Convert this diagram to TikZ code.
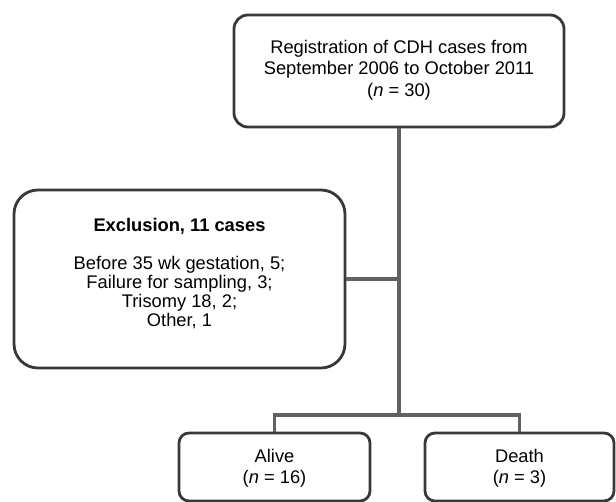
\documentclass[tikz,border=0pt]{standalone}
\usepackage{fontspec}
\setmainfont{Liberation Sans}
\usetikzlibrary{positioning}

\begin{document}
\begin{tikzpicture}[x=1pt,y=1pt,
    box/.style={draw=black!78,line width=2.8pt,rounded corners=#1,inner sep=0pt},
    box/.default=14pt,
    link/.style={draw=black!62,line width=3.2pt},
    txt/.style={inner sep=0pt,align=center,font=\fontsize{18.3}{#1}\selectfont},
    txt/.default=21.5pt]
\useasboundingbox (0,0) rectangle (616,502);
\node[box,minimum width=330pt,minimum height=112pt] (reg) at (399,431) {};
\node[txt,below=26pt of reg.north] (regtext) {Registration of CDH cases from\\September 2006 to October 2011\\(\textit{n} = 30)};
\node[box=24pt,minimum width=331pt,minimum height=178pt] (excl) at (179.5,223) {};
\node[txt=19pt,below=29pt of excl.north] (excltext) {\textbf{Exclusion, 11 cases}\\[19pt]Before 35 wk gestation, 5;\\Failure for sampling, 3;\\Trisomy 18, 2;\\Other, 1};
\node[box=10pt,minimum width=191pt,minimum height=68pt] (alive) at (274.5,35) {};
\node[txt,below=17pt of alive.north] (alivetext) {Alive\\(\textit{n} = 16)};
\node[box=10pt,minimum width=189pt,minimum height=68pt] (death) at (519.5,35) {};
\node[txt,below=17pt of death.north] (deathtext) {Death\\(\textit{n} = 3)};
\coordinate (split) at (399,87);
\draw[link] (reg.south) -- (split);
\draw[link] (excl.east) -- (excl.east -| reg.south);
\draw[link] (alive.north) |- (split) -| (death.north);
\end{tikzpicture}
\end{document}
